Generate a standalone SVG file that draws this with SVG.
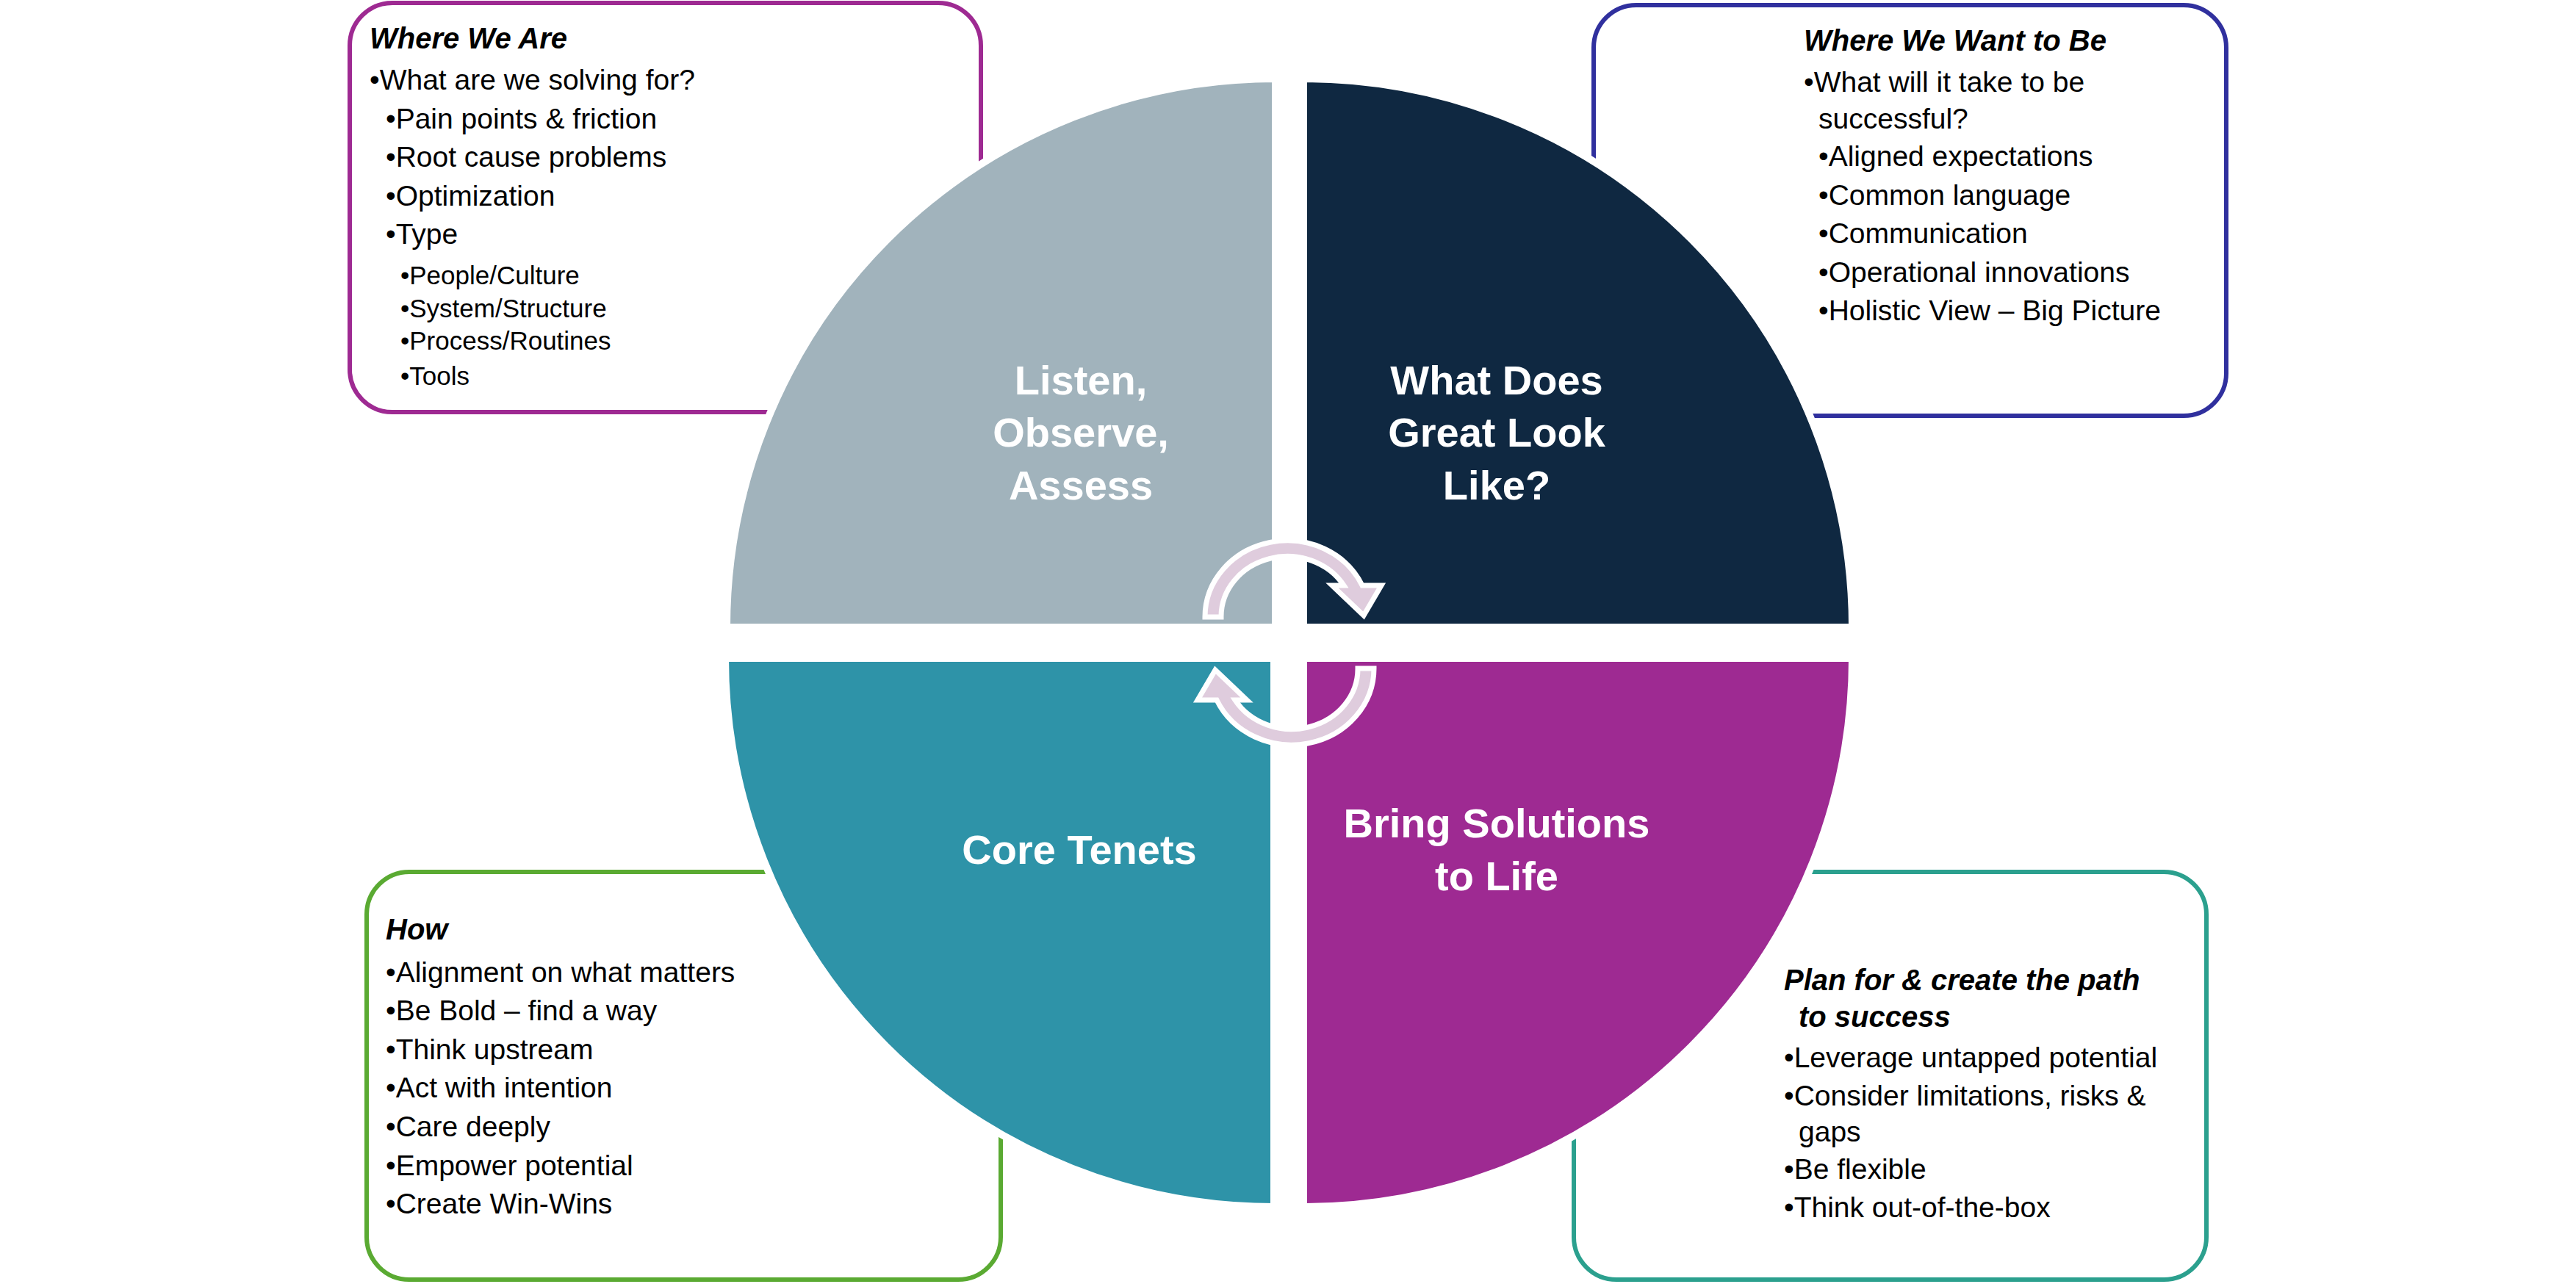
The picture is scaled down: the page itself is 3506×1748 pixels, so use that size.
<svg xmlns="http://www.w3.org/2000/svg" width="3506" height="1748" viewBox="0 0 3506 1748">
<style>
.box{fill:#fff;stroke-width:6}
.t{font-family:"Liberation Sans",Arial,sans-serif;font-size:39px;fill:#000}
.s{font-size:35px}
.h{font-weight:bold;font-style:italic;font-size:40px}
.big{font-family:"Liberation Sans",Arial,sans-serif;font-size:56px;font-weight:bold;fill:#fff;text-anchor:middle}
.q{stroke:#fff;stroke-width:10}
.arr{fill:#DFCCDD;stroke:#fff;stroke-width:7;stroke-linejoin:miter}
</style>
<rect width="3506" height="1748" fill="#fff"/>
<g id="box-where-we-are">
<rect class="box" x="476" y="4" width="859" height="557" rx="58" stroke="#9E2A92"/>
<text class="t h" x="503" y="66">Where We Are</text>
<text class="t" x="503" y="122">•What are we solving for?</text>
<text class="t" x="525" y="175">•Pain points &amp; friction</text>
<text class="t" x="525" y="227">•Root cause problems</text>
<text class="t" x="525" y="280">•Optimization</text>
<text class="t" x="525" y="332">•Type</text>
<text class="t s" x="545" y="387">•People/Culture</text>
<text class="t s" x="545" y="432">•System/Structure</text>
<text class="t s" x="545" y="476">•Process/Routines</text>
<text class="t s" x="545" y="524">•Tools</text>
</g>
<g id="box-where-we-want-to-be">
<rect class="box" x="2169" y="7" width="861" height="559" rx="58" stroke="#30309E"/>
<text class="t h" x="2455" y="69">Where We Want to Be</text>
<text class="t" x="2455" y="125">•What will it take to be</text>
<text class="t" x="2475" y="175">successful?</text>
<text class="t" x="2475" y="226">•Aligned expectations</text>
<text class="t" x="2475" y="279">•Common language</text>
<text class="t" x="2475" y="331">•Communication</text>
<text class="t" x="2475" y="384">•Operational innovations</text>
<text class="t" x="2475" y="436">•Holistic View – Big Picture</text>
</g>
<g id="box-how">
<rect class="box" x="499" y="1187" width="863" height="555" rx="58" stroke="#5AAA32"/>
<text class="t h" x="525" y="1279">How</text>
<text class="t" x="525" y="1337">•Alignment on what matters</text>
<text class="t" x="525" y="1389">•Be Bold – find a way</text>
<text class="t" x="525" y="1442">•Think upstream</text>
<text class="t" x="525" y="1494">•Act with intention</text>
<text class="t" x="525" y="1547">•Care deeply</text>
<text class="t" x="525" y="1600">•Empower potential</text>
<text class="t" x="525" y="1652">•Create Win-Wins</text>
</g>
<g id="box-plan">
<rect class="box" x="2142" y="1187" width="861" height="555" rx="58" stroke="#2BA08E"/>
<text class="t h" x="2428" y="1348">Plan for &amp; create the path</text>
<text class="t h" x="2448" y="1398">to success</text>
<text class="t" x="2428" y="1453">•Leverage untapped potential</text>
<text class="t" x="2428" y="1505">•Consider limitations, risks &amp;</text>
<text class="t" x="2448" y="1554">gaps</text>
<text class="t" x="2428" y="1605">•Be flexible</text>
<text class="t" x="2428" y="1657">•Think out-of-the-box</text>
</g>
<g id="q-listen">
<path class="q" fill="#A1B3BC" d="M1736,854 L989,854 A747,747 0 0 1 1736,107 Z"/>
<text class="big" x="1471" y="537">Listen,</text>
<text class="big" x="1471" y="608">Observe,</text>
<text class="big" x="1471" y="680">Assess</text>
</g>
<g id="q-great">
<path class="q" fill="#0F2841" d="M1774,854 L1774,107 A747,747 0 0 1 2521,854 Z"/>
<text class="big" x="2037" y="537">What Does</text>
<text class="big" x="2037" y="608">Great Look</text>
<text class="big" x="2037" y="680">Like?</text>
</g>
<g id="q-core">
<path class="q" fill="#2E93A8" d="M1734,896 L1734,1643 A747,747 0 0 1 987,896 Z"/>
<text class="big" x="1469" y="1176">Core Tenets</text>
</g>
<g id="q-bring">
<path class="q" fill="#9E2A92" d="M1774,896 L2521,896 A747,747 0 0 1 1774,1643 Z"/>
<text class="big" x="2037" y="1140">Bring Solutions</text>
<text class="big" x="2037" y="1212">to Life</text>
</g>
<g id="connectors">
<path class="arr" d="M1640,840 A112,104 0 0 1 1854,797 L1880,797 L1856,838 L1813,797 L1829,797 A90,82 0 0 0 1662,840 Z"/>
<path class="arr" transform="rotate(180 1755 875)" d="M1640,840 A112,104 0 0 1 1854,797 L1880,797 L1856,838 L1813,797 L1829,797 A90,82 0 0 0 1662,840 Z"/>
</g>
</svg>
